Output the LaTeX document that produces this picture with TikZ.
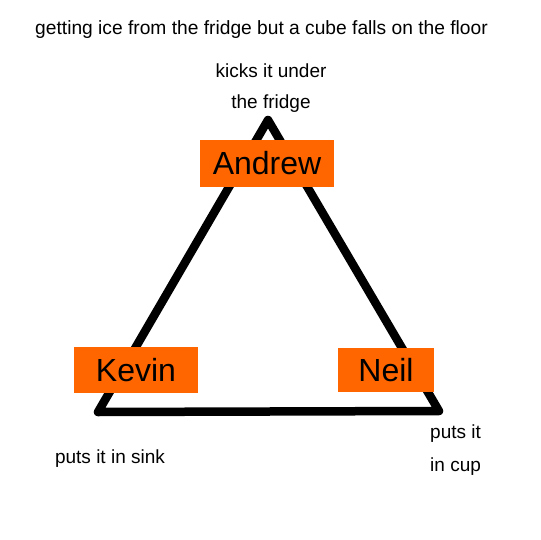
\documentclass[tikz,border=0pt]{standalone}
\usepackage{fontspec}
\setmainfont{Liberation Sans}
\usepackage{tikz}
\definecolor{boxorange}{RGB}{255,102,0}

\begin{document}
\begin{tikzpicture}[x=1pt, y=-1pt, inner sep=0pt]
    \tikzstyle{person}=[rectangle, fill=boxorange, text=black, font=\fontsize{32}{34}\selectfont]
    \tikzstyle{remark}=[text=black, font=\fontsize{19}{21}\selectfont]
    \tikzstyle{triside}=[draw=black, line width=8.5pt, line join=round]

    \useasboundingbox (0,0) rectangle (540,540);

    \node[remark, font=\fontsize{19.2}{21}\selectfont] (title) at (261.5,30) {getting ice from the fridge but a cube falls on the floor};

    % corners of the triangle
    \coordinate (top) at (268,120);
    \coordinate (left) at (98,412);
    \coordinate (right) at (439,411);

    \draw[triside] (top) -- (left) -- (right) -- cycle;

    \node[person, minimum width=134pt, minimum height=47pt] (Andrew) at (267,163.5) {Andrew};
    \node[person, minimum width=124pt, minimum height=46pt] (Kevin) at (136,370) {Kevin};
    \node[person, minimum width=96pt, minimum height=44pt] (Neil) at (386,370) {Neil};

    \node[remark] (kick1) at (271,71) {kicks it under};
    \node[remark] (kick2) at (271,104) {the fridge};
    \node[remark] (sink) at (110,459) {puts it in sink};
    \node[remark, anchor=west] (cup1) at (430,434) {puts it};
    \node[remark, anchor=west] (cup2) at (430,467) {in cup};
\end{tikzpicture}
\end{document}
